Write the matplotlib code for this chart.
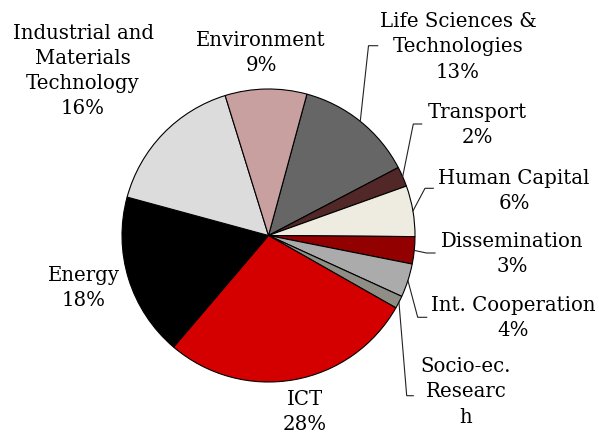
import matplotlib
matplotlib.use("Agg")
import matplotlib.pyplot as plt
import numpy as np

# ---- data (clockwise from the Life Sciences slice) ----
categories = ["Life Sciences &\nTechnologies", "Transport", "Human Capital",
              "Dissemination", "Int. Cooperation", "Socio-ec.\nResearc\nh",
              "ICT", "Energy", "Industrial and\nMaterials\nTechnology", "Environment"]
values = [13.1, 2.2, 5.6, 3.0, 3.7, 1.4, 28.0, 18.0, 16.0, 9.0]
show_pct = [True, True, True, True, True, False, True, True, True, True]
colors = ["#666666", "#512727", "#EEEBE1", "#930000", "#ABABAB", "#8E8E86",
          "#D40000", "#000000", "#DCDCDC", "#C9A0A0"]

W, H = 599, 435
fig = plt.figure(figsize=(W / 100, H / 100), dpi=100)
ax = fig.add_axes([0, 0, 1, 1])

cx, cy_img, R = 268.5, 236.5, 146.5
def Y(y_img):
    return H - y_img

wedges, _ = ax.pie(values, colors=colors, startangle=74.8, counterclock=False,
                   center=(cx, Y(cy_img)), radius=R,
                   wedgeprops=dict(edgecolor="black", linewidth=0.8))
ax.set_xlim(0, W)
ax.set_ylim(0, H)
ax.set_aspect("equal")
ax.axis("off")

font = dict(family="DejaVu Serif", size=14.2, color="black")

# label centres (image px) and leader elbows (image px) for outside labels
label_pos = [(458, 47), (477, 125), (514, 191), (512, 254), (513, 318),
             (466, 392), (305, 412), (84, 288), (83, 71), (261, 53)]
leaders = {0: [(368.5, 46.7), (377.7, 46.7)],
           1: [(413.3, 125), (421.7, 125)],
           2: [(425, 189.3), (433.3, 189.3)],
           3: [(426.5, 254), (435, 254)],
           4: [(417.7, 318.3), (426.7, 318.3)],
           5: [(406.7, 396.7), (413.3, 396.7)]}

for i, (w, cat, v, sp) in enumerate(zip(wedges, categories, values, show_pct)):
    txt = cat + (f"\n{round(v)}%" if sp else "")
    x, y = label_pos[i]
    ax.text(x, Y(y), txt, ha="center", va="center", multialignment="center",
            linespacing=1.42, **font)
    if i in leaders:
        th = np.deg2rad((w.theta1 + w.theta2) / 2)
        sx, sy = cx + R * np.cos(th), Y(cy_img) + R * np.sin(th)
        pts = [(sx, sy)] + [(px, Y(py)) for px, py in leaders[i]]
        xs, ys = zip(*pts)
        ax.plot(xs, ys, color="#222222", lw=0.8, solid_joinstyle="miter")

fig.savefig("out.png", dpi=100)
